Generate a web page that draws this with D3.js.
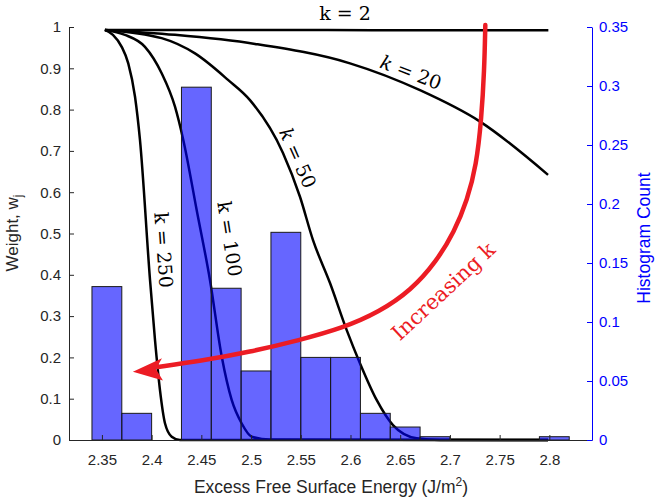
<!DOCTYPE html>
<html>
<head>
<meta charset="utf-8">
<script src="https://cdn.jsdelivr.net/npm/d3@7/dist/d3.min.js"></script>
<style>
  body { margin: 0; background: #fff; }
  svg { display: block; }
</style>
</head>
<body>
<script>
const width = 655;
const height = 500;

// histogram: bin edges (J/m^2) and normalised counts (right axis)
const binEdges = [2.34, 2.37, 2.40, 2.43, 2.46, 2.49, 2.52, 2.55, 2.58, 2.61, 2.64, 2.67, 2.70, 2.73, 2.76, 2.79, 2.82];
const binCounts = [0.130, 0.0226, 0, 0.299, 0.1286, 0.0585, 0.176, 0.070, 0.070, 0.0226, 0.011, 0.0028, 0, 0, 0, 0.0028];

// tick labels
const xTicks = [2.35, 2.4, 2.45, 2.5, 2.55, 2.6, 2.65, 2.7, 2.75, 2.8];
const leftTicks = [0, 0.1, 0.2, 0.3, 0.4, 0.5, 0.6, 0.7, 0.8, 0.9, 1];
const rightTicks = [0, 0.05, 0.1, 0.15, 0.2, 0.25, 0.3, 0.35];

// weight curves, [energy, weight]
const curveK2 = [[2.353, 0.993], [2.50, 0.993], [2.65, 0.992], [2.799, 0.992]];
const curveK20 = [[2.353, 0.993], [2.4235, 0.981], [2.504, 0.959], [2.5995, 0.912], [2.6699, 0.847], [2.7303, 0.771], [2.7987, 0.642]];
const curveK50 = [[2.353, 0.993], [2.4101, 0.973], [2.4436, 0.936], [2.4768, 0.872], [2.4989, 0.823], [2.5321, 0.695],
  [2.5492, 0.589], [2.5623, 0.484], [2.5794, 0.380], [2.5962, 0.266], [2.6095, 0.186], [2.6263, 0.097],
  [2.6427, 0.036], [2.6666, 0.004], [2.69, 0], [2.7987, 0]];
const curveK100 = [[2.353, 0.993], [2.3732, 0.981], [2.3933, 0.952], [2.4101, 0.888], [2.4235, 0.807], [2.4319, 0.726],
  [2.4453, 0.557], [2.4587, 0.387], [2.4705, 0.202], [2.4805, 0.097], [2.4906, 0.040], [2.5006, 0.008],
  [2.519, 0.001], [2.7987, 0]];
const curveK250 = [[2.353, 0.993], [2.3611, 0.981], [2.3699, 0.952], [2.3765, 0.912], [2.3833, 0.831], [2.3883, 0.726],
  [2.3984, 0.387], [2.4034, 0.242], [2.4084, 0.121], [2.4135, 0.040], [2.4202, 0.008], [2.4285, 0], [2.7987, 0]];

const curves = [curveK2, curveK20, curveK50, curveK100, curveK250];

// curve labels: text, energy, weight, angle, italic k
const labelText = ['k = 2', 'k = 20', 'k = 50', 'k = 100', 'k = 250'];
const labelPos = [[2.5945, 1.034], [2.6609, 0.891], [2.5472, 0.683], [2.4788, 0.487], [2.4124, 0.460]];
const labelAngle = [0, 21, 66, 81, 86];
const labelItalic = [false, true, true, false, false];

// red "Increasing k" arrow, [energy, weight]
const arrowPath = [[2.7356, 1.005], [2.7346, 0.896], [2.7316, 0.775], [2.7266, 0.666], [2.7175, 0.581], [2.7044, 0.504],
  [2.6863, 0.432], [2.6612, 0.363], [2.6290, 0.310], [2.5920, 0.271], [2.5489, 0.242], [2.4987, 0.213],
  [2.4485, 0.191], [2.4063, 0.177]];
const arrowHead = [[2.3812, 0.165], [2.4104, 0.198], [2.4043, 0.172], [2.4114, 0.144]];

const x = d3.scaleLinear().domain([2.3169, 2.8429]).range([69, 592]);
const yL = d3.scaleLinear().domain([0, 1]).range([440, 27]);
const yR = d3.scaleLinear().domain([0, 0.35]).range([440, 27]);

const svg = d3.select('body')
  .append('svg')
  .attr('width', width)
  .attr('height', height);

const line = d3.line()
  .x(d => x(d[0]))
  .y(d => yL(d[1]))
  .curve(d3.curveMonotoneX);

svg.append('g')
  .selectAll('path')
  .data(curves).enter()
  .append('path')
  .attr('d', line)
  .attr('fill', 'none')
  .attr('stroke', '#000')
  .attr('stroke-width', 2.5)
  .attr('stroke-linejoin', 'round');

// histogram bars over the curves (semi transparent)
svg.append('g')
  .selectAll('rect')
  .data(binCounts).enter()
  .append('rect')
  .attr('x', (d, i) => x(binEdges[i]))
  .attr('width', (d, i) => x(binEdges[i + 1]) - x(binEdges[i]))
  .attr('y', d => yR(d))
  .attr('height', d => yR(0) - yR(d))
  .attr('fill', '#0000ff')
  .attr('fill-opacity', 0.6)
  .attr('stroke', '#1a1a1a')
  .attr('stroke-width', 1);

// curve labels
svg.append('g')
  .selectAll('text')
  .data(labelText).enter()
  .append('text')
  .attr('transform', (d, i) => `translate(${x(labelPos[i][0])},${yL(labelPos[i][1])}) rotate(${labelAngle[i]})`)
  .attr('text-anchor', 'middle')
  .attr('dominant-baseline', 'central')
  .style('font-family', '"DejaVu Serif", serif')
  .style('font-size', '19px')
  .attr('fill', '#000')
  .each(function (d, i) {
    const t = d3.select(this);
    t.append('tspan').style('font-style', labelItalic[i] ? 'italic' : 'normal').text('k');
    t.append('tspan').text(d.slice(1));
  });

// arrow
const arrowLine = d3.line()
  .x(d => x(d[0]))
  .y(d => yL(d[1]))
  .curve(d3.curveBasis);

svg.append('path')
  .attr('d', arrowLine(arrowPath))
  .attr('fill', 'none')
  .attr('stroke', '#ec1c24')
  .attr('stroke-width', 4.5)
  .attr('stroke-linecap', 'round');

svg.append('path')
  .attr('d', d3.line().x(d => x(d[0])).y(d => yL(d[1]))(arrowHead) + 'Z')
  .attr('fill', '#ec1c24');

svg.append('text')
  .attr('transform', `translate(${x(2.6935)},${yL(0.36)}) rotate(-43)`)
  .attr('text-anchor', 'middle')
  .attr('dominant-baseline', 'central')
  .style('font-family', '"DejaVu Serif", serif')
  .style('font-size', '21px')
  .attr('fill', '#ec1c24')
  .text('Increasing k');

// axes
const styleAxis = (g, color) => {
  g.select('.domain').attr('stroke', color).attr('stroke-width', 1);
  g.selectAll('.tick line').attr('stroke', color);
  g.selectAll('.tick text')
    .attr('fill', color)
    .style('font-family', '"Liberation Sans", Arial, sans-serif')
    .style('font-size', '15px');
};

svg.append('g')
  .attr('transform', 'translate(0,440)')
  .call(d3.axisBottom(x).tickValues(xTicks).tickFormat(d3.format('~g')).tickSizeInner(-5).tickSizeOuter(0).tickPadding(14))
  .call(g => styleAxis(g, '#262626'));

svg.append('g')
  .attr('transform', 'translate(69,0)')
  .call(d3.axisLeft(yL).tickValues(leftTicks).tickFormat(d3.format('~g')).tickSizeInner(-5).tickSizeOuter(0).tickPadding(8))
  .call(g => styleAxis(g, '#262626'));

svg.append('g')
  .attr('transform', 'translate(592,0)')
  .call(d3.axisRight(yR).tickValues(rightTicks).tickFormat(d3.format('~g')).tickSizeInner(-5).tickSizeOuter(0).tickPadding(7))
  .call(g => styleAxis(g, '#0000ff'));

// axis titles
const xTitle = svg.append('text')
  .attr('x', 331)
  .attr('y', 493)
  .attr('text-anchor', 'middle')
  .style('font-family', '"Liberation Sans", Arial, sans-serif')
  .style('font-size', '17.5px')
  .attr('fill', '#262626');
xTitle.append('tspan').text('Excess Free Surface Energy (J/m');
xTitle.append('tspan').attr('dy', -7).style('font-size', '12px').text('2');
xTitle.append('tspan').attr('dy', 7).text(')');

const yTitle = svg.append('text')
  .attr('transform', 'translate(18,233) rotate(-90)')
  .attr('text-anchor', 'middle')
  .style('font-family', '"Liberation Sans", Arial, sans-serif')
  .style('font-size', '17px')
  .attr('fill', '#262626');
yTitle.append('tspan').text('Weight, w');
yTitle.append('tspan').attr('dy', 4).style('font-size', '12px').text('j');

svg.append('text')
  .attr('transform', 'translate(650,238) rotate(-90)')
  .attr('text-anchor', 'middle')
  .style('font-family', '"Liberation Sans", Arial, sans-serif')
  .style('font-size', '17.5px')
  .attr('fill', '#0000ff')
  .text('Histogram Count');
</script>
</body>
</html>
